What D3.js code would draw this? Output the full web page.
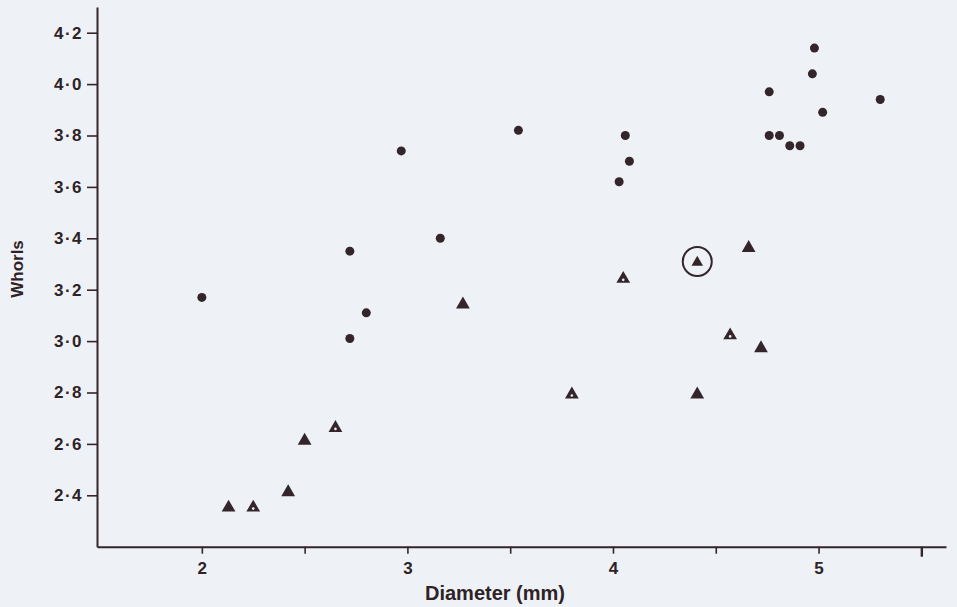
<!DOCTYPE html>
<html>
<head>
<meta charset="utf-8">
<script src="https://cdn.jsdelivr.net/npm/d3@7"></script>
<style>
  html, body { margin: 0; padding: 0; background: #eef2f6; }
  svg { display: block; }
  text { font-family: "Liberation Sans", Arial, Helvetica, sans-serif; font-weight: bold; fill: #2e2226; }
</style>
</head>
<body>
<svg id="chart" width="957" height="607"></svg>
<script>
// ---- data ----
const circleX = [2.00, 2.72, 2.80, 2.72, 3.16, 2.97, 3.54, 4.06, 4.08, 4.03, 4.98, 4.97, 4.76, 5.30, 5.02, 4.76, 4.81, 4.86, 4.91];
const circleY = [3.17, 3.01, 3.11, 3.35, 3.40, 3.74, 3.82, 3.80, 3.70, 3.62, 4.14, 4.04, 3.97, 3.94, 3.89, 3.80, 3.80, 3.76, 3.76];

const triX = [2.13, 2.42, 2.50, 3.27, 4.66, 4.72, 4.41];
const triY = [2.36, 2.42, 2.62, 3.15, 3.37, 2.98, 2.80];

const dotTriX = [2.25, 2.65, 4.05, 4.57, 3.80];
const dotTriY = [2.36, 2.67, 3.25, 3.03, 2.80];

const ringTriX = [4.41];
const ringTriY = [3.31];

const xTicks = [2, 2.5, 3, 3.5, 4, 4.5, 5, 5.5];
const xTickLabels = ["2", "", "3", "", "4", "", "5", ""];
const yTicks = [2.4, 2.6, 2.8, 3.0, 3.2, 3.4, 3.6, 3.8, 4.0, 4.2];
const yTickLabels = ["2·4", "2·6", "2·8", "3·0", "3·2", "3·4", "3·6", "3·8", "4·0", "4·2"];

const xTitle = "Diameter (mm)";
const yTitle = "Whorls";

// ---- drawing ----
const ink = "#34252a";
const svg = d3.select("#chart");

const x = d3.scaleLinear().domain([1.49, 5.62]).range([97, 946]);
const y = d3.scaleLinear().domain([2.2, 4.3]).range([546.7, 7]);

const xAxis = d3.axisBottom(x)
  .tickValues(xTicks)
  .tickFormat((d, i) => xTickLabels[i])
  .tickSize(7).tickPadding(8).tickSizeOuter(0);
const gx = svg.append("g").attr("transform", `translate(0,${y(2.2)})`).call(xAxis);
gx.select(".domain").attr("stroke", ink).attr("stroke-width", 2);
gx.selectAll(".tick line").attr("stroke", ink).attr("stroke-width", 1.6);
gx.selectAll(".tick").filter(d => d === 5.5).select("line").attr("y2", 10).attr("stroke-width", 2.4);
gx.selectAll(".tick text").style("font-size", "17px").attr("fill", ink);

const yAxis = d3.axisLeft(y)
  .tickValues(yTicks)
  .tickFormat((d, i) => yTickLabels[i])
  .tickSize(10).tickPadding(4).tickSizeOuter(0);
const gy = svg.append("g").attr("transform", `translate(${x(1.49)},0)`).call(yAxis);
gy.select(".domain").attr("stroke", ink).attr("stroke-width", 2);
gy.selectAll(".tick line").attr("stroke", ink).attr("stroke-width", 1.6);
gy.selectAll(".tick text").style("font-size", "17px").style("letter-spacing", "1.5px").attr("fill", ink);

// titles
svg.append("text")
  .attr("x", 495).attr("y", 600)
  .attr("text-anchor", "middle")
  .style("font-size", "20px")
  .text(xTitle);
svg.append("text")
  .attr("transform", `translate(23,269) rotate(-90)`)
  .attr("text-anchor", "middle")
  .style("font-size", "17px")
  .text(yTitle);

// circles
svg.append("g").selectAll("circle")
  .data(circleX.map((v, i) => [v, circleY[i]]))
  .join("circle")
  .attr("cx", d => x(d[0])).attr("cy", d => y(d[1]))
  .attr("r", 4.5).attr("fill", ink);

const tri = d3.symbol().type(d3.symbolTriangle);
const triDy = 2; // visual centre vs. centroid

// solid triangles
svg.append("g").selectAll("path")
  .data(triX.map((v, i) => [v, triY[i]]))
  .join("path")
  .attr("d", tri.size(82)())
  .attr("transform", d => `translate(${x(d[0])},${y(d[1]) + triDy})`)
  .attr("fill", ink);

// triangles with small white centre
const gd = svg.append("g").selectAll("g")
  .data(dotTriX.map((v, i) => [v, dotTriY[i]]))
  .join("g")
  .attr("transform", d => `translate(${x(d[0])},${y(d[1]) + triDy})`);
gd.append("path").attr("d", tri.size(82)()).attr("fill", ink);
gd.append("circle").attr("cx", 0).attr("cy", 1).attr("r", 1.3).attr("fill", "#eef2f6");

// ringed triangle
const gr = svg.append("g").selectAll("g")
  .data(ringTriX.map((v, i) => [v, ringTriY[i]]))
  .join("g")
  .attr("transform", d => `translate(${x(d[0])},${y(d[1])})`);
gr.append("path").attr("d", tri.size(58)()).attr("transform", "translate(0,1)").attr("fill", ink);
gr.append("circle").attr("r", 14.5).attr("fill", "none").attr("stroke", ink).attr("stroke-width", 2);
</script>
</body>
</html>
